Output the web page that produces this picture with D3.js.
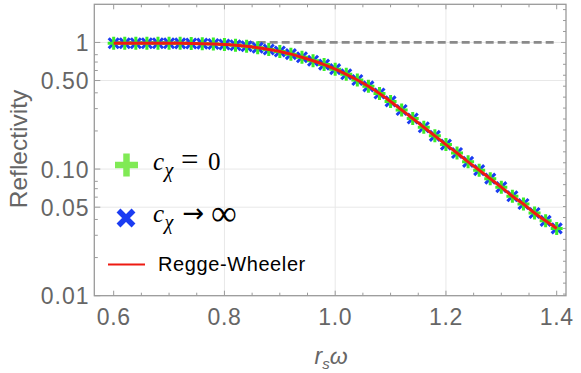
<!DOCTYPE html>
<html>
<head>
<meta charset="UTF-8">
<title>Reflectivity</title>
<style>
body { margin: 0; background: #fff; }
svg { display: block; }
</style>
<script src="https://cdn.jsdelivr.net/npm/d3@7"></script>
</head>
<body>
<div id="canvas"></div>
<script>
// data
var xVals = [0.60, 0.62, 0.64, 0.66, 0.68, 0.70, 0.72, 0.74, 0.76, 0.78,
             0.80, 0.82, 0.84, 0.86, 0.88, 0.90, 0.92, 0.94, 0.96, 0.98,
             1.00, 1.02, 1.04, 1.06, 1.08, 1.10, 1.12, 1.14, 1.16, 1.18,
             1.20, 1.22, 1.24, 1.26, 1.28, 1.30, 1.32, 1.34, 1.36, 1.38, 1.40];
var cZeroVals = [0.985, 0.985, 0.985, 0.985, 0.984, 0.984, 0.983, 0.981, 0.978, 0.972,
                 0.963, 0.950, 0.932, 0.908, 0.880, 0.848, 0.808, 0.763, 0.717, 0.668,
                 0.615, 0.560, 0.505, 0.450, 0.395, 0.342, 0.293, 0.251, 0.214, 0.183,
                 0.156, 0.134, 0.114, 0.098, 0.084, 0.072, 0.061, 0.053, 0.045, 0.039, 0.034];
var cInfVals = [0.985, 0.985, 0.985, 0.985, 0.984, 0.984, 0.983, 0.981, 0.978, 0.972,
                0.963, 0.950, 0.932, 0.908, 0.880, 0.848, 0.808, 0.763, 0.717, 0.668,
                0.615, 0.560, 0.505, 0.450, 0.395, 0.342, 0.293, 0.251, 0.214, 0.183,
                0.156, 0.134, 0.114, 0.098, 0.084, 0.072, 0.061, 0.053, 0.045, 0.039, 0.034];
var rwVals = [0.985, 0.985, 0.985, 0.985, 0.984, 0.984, 0.983, 0.981, 0.978, 0.972,
              0.963, 0.950, 0.932, 0.908, 0.880, 0.848, 0.808, 0.763, 0.717, 0.668,
              0.615, 0.560, 0.505, 0.450, 0.395, 0.342, 0.293, 0.251, 0.214, 0.183,
              0.156, 0.134, 0.114, 0.098, 0.084, 0.072, 0.061, 0.053, 0.045, 0.039, 0.034];

var xTicks = [0.6, 0.8, 1.0, 1.2, 1.4];
var xMinor = [0.65, 0.7, 0.75, 0.85, 0.9, 0.95, 1.05, 1.1, 1.15, 1.25, 1.3, 1.35];
var yTicks = [1, 0.5, 0.1, 0.05, 0.01];
var yTickLabels = ["1", "0.50", "0.10", "0.05", "0.01"];
var yMinor = [0.02, 0.03, 0.04, 0.06, 0.07, 0.08, 0.2, 0.3, 0.4, 0.6, 0.7, 0.8];
var xGrid = [0.8, 1.0, 1.2];
var yGrid = [1, 0.5, 0.1, 0.05];

(function(){
  var W = 581, H = 373;
  var pL = 94.3, pR = 566, pT = 4.3, pB = 295.7;

  var x = d3.scaleLinear().domain([0.565, 1.4168]).range([pL, pR]);
  var y = d3.scaleLog().domain([0.01, 2]).range([pB, pT]);

  var svg = d3.select("#canvas").append("svg")
      .attr("width", W).attr("height", H);

  var frameCol = "#9a9a9a", labelCol = "#666";
  var tickFont = "23px 'Liberation Sans', Arial, sans-serif";

  // grid
  svg.append("g").selectAll("line").data(xGrid).enter().append("line")
      .attr("x1", function(d) { return x(d); }).attr("x2", function(d) { return x(d); })
      .attr("y1", pT).attr("y2", pB)
      .attr("stroke", "#e8e8e8").attr("stroke-width", 1);
  svg.append("g").selectAll("line").data(yGrid).enter().append("line")
      .attr("y1", function(d) { return y(d); }).attr("y2", function(d) { return y(d); })
      .attr("x1", pL).attr("x2", pR)
      .attr("stroke", "#e8e8e8").attr("stroke-width", 1);

  // dashed line at R = 1
  svg.append("line")
      .attr("x1", x(0.6)).attr("x2", x(1.4))
      .attr("y1", y(1)).attr("y2", y(1))
      .attr("stroke", "#8a8a8a").attr("stroke-width", 2.6)
      .attr("stroke-dasharray", "8,4");

  var blue = "#1b3cf2", green = "#3bec2a", red = "#ee1a12";

  // c -> infinity : blue crosses
  svg.append("g").selectAll("path").data(xVals).enter().append("path")
      .attr("transform", function(d, i) { return "translate(" + x(d) + "," + y(cInfVals[i]) + ")"; })
      .attr("d", "M-5,-5L5,5M-5,5L5,-5")
      .attr("stroke", blue).attr("stroke-width", 3).attr("fill", "none");

  // c = 0 : green plus
  svg.append("g").selectAll("path").data(xVals).enter().append("path")
      .attr("transform", function(d, i) { return "translate(" + x(d) + "," + y(cZeroVals[i]) + ")"; })
      .attr("d", "M-6,0H6M0,-6.5V6.5")
      .attr("stroke", green).attr("stroke-width", 3).attr("fill", "none");

  // Regge-Wheeler line
  var line = d3.line()
      .x(function(d, i) { return x(xVals[i]); })
      .y(function(d) { return y(d); })
      .curve(d3.curveMonotoneX);
  svg.append("path").datum(rwVals)
      .attr("d", line)
      .attr("fill", "none").attr("stroke", red).attr("stroke-width", 3);

  // frame
  svg.append("rect")
      .attr("x", pL).attr("y", pT).attr("width", pR - pL).attr("height", pB - pT)
      .attr("fill", "none").attr("stroke", frameCol).attr("stroke-width", 1.3);

  var ticks = svg.append("g").attr("stroke", frameCol).attr("stroke-width", 1);
  // bottom / top ticks
  xTicks.forEach(function(d) {
    ticks.append("line").attr("x1", x(d)).attr("x2", x(d)).attr("y1", pB).attr("y2", pB - 5);
    ticks.append("line").attr("x1", x(d)).attr("x2", x(d)).attr("y1", pT).attr("y2", pT + 5);
  });
  xMinor.forEach(function(d) {
    ticks.append("line").attr("x1", x(d)).attr("x2", x(d)).attr("y1", pB).attr("y2", pB - 3);
    ticks.append("line").attr("x1", x(d)).attr("x2", x(d)).attr("y1", pT).attr("y2", pT + 3);
  });
  // left ticks
  yTicks.forEach(function(d) {
    ticks.append("line").attr("x1", pL).attr("x2", pL + 6).attr("y1", y(d)).attr("y2", y(d));
  });
  yMinor.forEach(function(d) {
    ticks.append("line").attr("x1", pL).attr("x2", pL + 3.5).attr("y1", y(d)).attr("y2", y(d));
  });
  // right ticks: evenly spaced marks
  var rightStep = 0.0864;
  for (var k = -3; k <= 23; k++) {
    var v = Math.pow(10, -k * rightStep);
    var len = (k === 0) ? 5 : 3;
    ticks.append("line").attr("x1", pR).attr("x2", pR - len).attr("y1", y(v)).attr("y2", y(v));
  }

  // tick labels
  svg.append("g").selectAll("text").data(xTicks).enter().append("text")
      .attr("x", function(d) { return x(d); }).attr("y", pB + 29)
      .attr("text-anchor", "middle")
      .style("font", tickFont).style("letter-spacing", "0.6px")
      .attr("fill", labelCol)
      .text(function(d) { return d3.format(".1f")(d); });

  svg.append("g").selectAll("text").data(yTicks).enter().append("text")
      .attr("x", 89.5).attr("y", function(d) { return y(d) + 8.5; })
      .attr("text-anchor", "end")
      .style("font", tickFont).style("letter-spacing", "1px")
      .attr("fill", labelCol)
      .text(function(d, i) { return yTickLabels[i]; });

  // axis labels
  svg.append("text")
      .attr("transform", "translate(27,149) rotate(-90)")
      .attr("text-anchor", "middle")
      .style("font", "24.5px 'Liberation Sans', Arial, sans-serif")
      .attr("fill", labelCol)
      .text("Reflectivity");

  var xl = svg.append("text")
      .attr("x", 331).attr("y", 364)
      .attr("text-anchor", "middle")
      .style("font", "italic 23px 'Liberation Sans', Arial, sans-serif")
      .attr("fill", labelCol);
  xl.append("tspan").text("r");
  xl.append("tspan").attr("dy", 5).style("font-size", "15px").text("s");
  xl.append("tspan").attr("dy", -5).text("ω");

  // legend
  var lg = svg.append("g");
  lg.append("path")
      .attr("transform", "translate(126.5,165)")
      .attr("d", "M-11.5,0H11.5M0,-11.5V11.5")
      .attr("stroke", "#80ea55").attr("stroke-width", 6.5).attr("fill", "none");
  lg.append("path")
      .attr("transform", "translate(126,218)")
      .attr("d", "M-7.5,-7.5L7.5,7.5M-7.5,7.5L7.5,-7.5")
      .attr("stroke", blue).attr("stroke-width", 5.5).attr("fill", "none");
  lg.append("line")
      .attr("x1", 108).attr("x2", 145).attr("y1", 264.5).attr("y2", 264.5)
      .attr("stroke", red).attr("stroke-width", 2);

  var mathFont = "25px 'Liberation Serif', 'DejaVu Serif', serif";
  var t1 = lg.append("text").attr("y", 170).style("font", mathFont).attr("fill", "#000");
  t1.append("tspan").attr("x", 153).style("font-style", "italic").text("c");
  t1.append("tspan").attr("x", 164.5).attr("dy", 7).style("font-style", "italic").style("font-size", "20px").text("χ");
  t1.append("tspan").attr("x", 181).attr("dy", -7).style("font", "31px 'Liberation Serif', serif").text("=");
  t1.append("tspan").attr("x", 208).text("0");

  var t2 = lg.append("text").attr("y", 222).style("font", mathFont).attr("fill", "#000");
  t2.append("tspan").attr("x", 153).style("font-style", "italic").text("c");
  t2.append("tspan").attr("x", 164.5).attr("dy", 7).style("font-style", "italic").style("font-size", "20px").text("χ");
  t2.append("tspan").attr("x", 182.5).attr("dy", -7).style("font", "26px 'DejaVu Sans', sans-serif").text("→");
  t2.append("tspan").attr("x", 211).attr("dy", 3).style("font", "36px 'Liberation Serif', serif").text("∞");

  lg.append("text")
      .attr("x", 158).attr("y", 271)
      .style("font", "20px 'Liberation Sans', Arial, sans-serif")
      .style("letter-spacing", "0.6px")
      .attr("fill", "#000")
      .text("Regge-Wheeler");
})();
</script>
</body>
</html>
